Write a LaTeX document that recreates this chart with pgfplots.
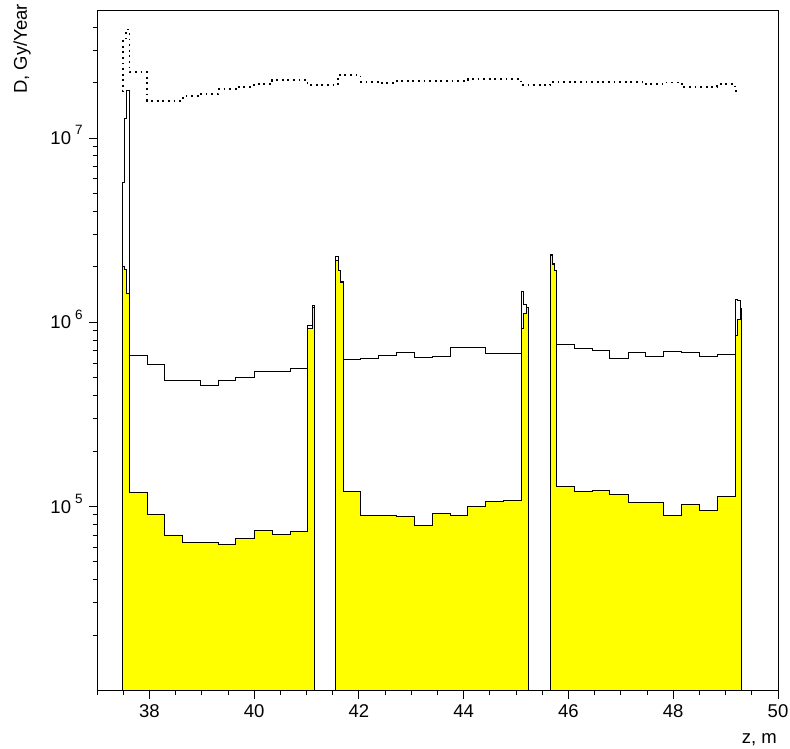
\documentclass[border=0pt]{standalone}
\usepackage{fontspec}
\setmainfont{Liberation Sans}
\usepackage{pgfplots}
\pgfplotsset{compat=1.18}
\definecolor{rootyellow}{RGB}{255,255,0}
\newcommand{\ex}[1]{10\hspace{0.22em}\raisebox{0.52em}{\fontsize{13.5}{14}\selectfont #1}}
\begin{document}
\fontsize{18.5}{20}\selectfont
\begin{tikzpicture}
\begin{axis}[
  scale only axis,
  width=681pt, height=680.7pt,
  xmin=37, xmax=50,
  ymode=log, ymin=1e4, ymax=4.95e7,
  xtick={38,40,...,50},
  minor xtick={37,37.5,...,50},
  ytick={1e5,1e6,1e7},
  yticklabels={\ex{5},\ex{6},\ex{7}},
  minor ytick={2e4,3e4,4e4,5e4,6e4,7e4,8e4,9e4,
               2e5,3e5,4e5,5e5,6e5,7e5,8e5,9e5,
               2e6,3e6,4e6,5e6,6e6,7e6,8e6,9e6,
               2e7,3e7,4e7},
  tick align=outside, tick pos=left,
  major tick length=8pt, minor tick length=4.5pt,
  tick style={black, line width=0.9pt},
  axis line style={line width=0.9pt},
  ticklabel style={font=\fontsize{18.5}{20}\selectfont},
  /pgf/number format/assume math mode=true,
  yticklabel style={anchor=base east, yshift=-6.6pt},
  axis on top,
]
  % yellow histogram, three sections
  \addplot[const plot, fill=rootyellow, draw=black, line width=0.9pt] coordinates {
    (37.48,1e3) (37.48,2.0e6) (37.525,1.93e6) (37.57,1.43e6) (37.62,1.19e5)
    (37.96,9.02e4) (38.29,7.0e4) (38.64,6.34e4) (38.98,6.36e4) (39.32,6.25e4)
    (39.65,6.71e4) (40.00,7.42e4) (40.34,7.08e4) (40.69,7.35e4) (41.02,9.3e5)
    (41.105,1.2e6) (41.15,1e3)
  };
  \addplot[const plot, fill=rootyellow, draw=black, line width=0.9pt] coordinates {
    (41.56,1e3) (41.56,2.17e6) (41.61,1.90e6) (41.65,1.64e6) (41.70,1.21e5)
    (42.03,8.98e4) (42.38,8.98e4) (42.72,8.83e4) (43.06,7.86e4) (43.40,9.15e4)
    (43.74,8.98e4) (44.08,1.0e5) (44.42,1.06e5) (44.76,1.08e5) (45.10,9.2e5)
    (45.145,1.12e6) (45.19,1.2e6) (45.23,1e3)
  };
  \addplot[const plot, fill=rootyellow, draw=black, line width=0.9pt] coordinates {
    (45.65,1e3) (45.65,2.30e6) (45.69,2.06e6) (45.73,1.90e6) (45.77,1.28e5)
    (46.11,1.21e5) (46.46,1.22e5) (46.79,1.16e5) (47.14,1.05e5) (47.47,1.05e5)
    (47.82,8.89e4) (48.16,1.02e5) (48.50,9.55e4) (48.84,1.13e5) (49.18,8.44e5)
    (49.23,1.04e6) (49.28,1.19e6) (49.31,1e3)
  };
  % open histogram
  \addplot[const plot, black, line width=0.9pt] coordinates {
    (37.48,1e3) (37.48,5.76e6) (37.525,1.27e7) (37.57,1.82e7) (37.62,6.58e5)
    (37.96,5.88e5) (38.29,4.82e5) (38.64,4.82e5) (38.98,4.56e5) (39.32,4.82e5)
    (39.65,5.01e5) (40.00,5.41e5) (40.34,5.41e5) (40.69,5.64e5) (41.02,9.55e5)
    (41.105,1.23e6) (41.15,1e3)
  };
  \addplot[const plot, black, line width=0.9pt] coordinates {
    (41.56,1e3) (41.56,2.28e6) (41.61,1.92e6) (41.65,1.66e6) (41.70,6.26e5)
    (42.03,6.34e5) (42.38,6.64e5) (42.72,6.83e5) (43.06,6.47e5) (43.40,6.52e5)
    (43.74,7.29e5) (44.08,7.29e5) (44.42,6.74e5) (44.76,6.8e5) (45.10,1.46e6)
    (45.145,1.25e6) (45.19,1.21e6) (45.23,1e3)
  };
  \addplot[const plot, black, line width=0.9pt] coordinates {
    (45.65,1e3) (45.65,2.33e6) (45.69,2.08e6) (45.73,1.92e6) (45.77,7.54e5)
    (46.11,7.2e5) (46.46,7.03e5) (46.79,6.34e5) (47.14,6.85e5) (47.47,6.49e5)
    (47.82,6.97e5) (48.16,6.85e5) (48.50,6.52e5) (48.84,6.68e5) (49.18,1.33e6)
    (49.23,1.31e6) (49.28,1.19e6) (49.31,1e3)
  };
  % dotted total
  \addplot[const plot, black, line width=1.8pt, dash pattern=on 1.8pt off 3.8pt] coordinates {
    (37.48,1.79e7) (37.50,3.36e7) (37.555,3.88e7) (37.62,2.27e7) (37.96,1.59e7)
    (38.64,1.69e7) (38.98,1.74e7) (39.32,1.84e7) (39.65,1.90e7) (40.00,1.96e7)
    (40.34,2.06e7) (41.02,1.93e7) (41.60,2.20e7) (42.03,2.02e7) (42.38,1.98e7)
    (42.72,2.03e7) (44.08,2.08e7) (45.10,1.93e7) (45.65,2.02e7) (47.47,1.96e7)
    (47.82,2.0e7) (48.16,1.89e7) (48.84,1.96e7) (49.18,1.80e7) (49.28,1.80e7)
  };
\end{axis}
\node[anchor=base east, inner sep=0pt] at (680pt,-52.3pt) {z, m};
\node[anchor=base east, rotate=90, inner sep=0pt] at (-70pt,687pt) {D, Gy/Year};
\pgfresetboundingbox
\path (-97pt,-57.3pt) rectangle (693pt,690.7pt);
\end{tikzpicture}
\end{document}
